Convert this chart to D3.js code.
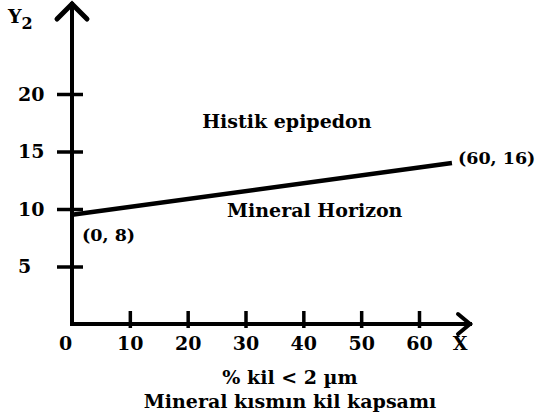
<!DOCTYPE html>
<html>
<head>
<meta charset="utf-8">
<script src="https://cdn.jsdelivr.net/npm/d3@7/dist/d3.min.js"></script>
<style>
  body { margin: 0; background: #fff; }
  text { font-family: "DejaVu Serif", serif; font-weight: bold; fill: #000; }
</style>
</head>
<body>
<div id="chart"></div>
<script>
// data
const xTicks = [0, 10, 20, 30, 40, 50, 60]
const yTicks = [5, 10, 15, 20]
const lineX = [0, 65.7]
const lineY = [9.5, 14]
const pointLabels = ['(0, 8)', '(60, 16)']
const regionNames = ['Histik epipedon', 'Mineral Horizon']
const regionX = [22.5, 26.8]
const regionY = [17.6, 9.9]
const xTitle = ['% kil < 2 µm', 'Mineral kısmın kil kapsamı']

// chart setting
const chart = { 'width': 540, 'height': 420 }
const margin = { 'left': 72, 'right': 121, 'top': 94, 'bottom': 96 }

createViz()

function createViz(){
  const xScale = d3.scaleLinear()
                  .domain([0, 60])
                  .range([margin.left, chart.width - margin.right])
  const yScale = d3.scaleLinear()
                  .domain([0, 20])
                  .range([chart.height - margin.bottom, margin.top])

  const svg = d3.select('#chart')
                .append('svg')
                  .attr('width', chart.width)
                  .attr('height', chart.height)

  const x0 = xScale(0), y0 = yScale(0)

  // x axis
  const xAxis = d3.axisBottom(xScale)
                  .tickValues(xTicks)
                  .tickFormat(d3.format('d'))
                  .tickSizeInner(4)
                  .tickSizeOuter(0)
                  .tickPadding(8.5)
  const bottomAxis = svg.append('g')
                  .attr('class', 'axis-x')
                  .attr('transform', `translate(0, ${y0})`)
                  .call(xAxis)
  bottomAxis.select('.domain').remove()
  bottomAxis.selectAll('.tick line')
        .attr('y1', -13).attr('y2', 4)
        .attr('stroke', '#000').attr('stroke-width', 3.5)
  bottomAxis.selectAll('.tick').filter(d => d === 0).select('line').remove()
  bottomAxis.selectAll('.tick').filter(d => d === 0).select('text').attr('x', -7)
  bottomAxis.selectAll('text').attr('font-size', 19).attr('font-family', null)

  // y axis
  const yAxis = d3.axisLeft(yScale)
                  .tickValues(yTicks)
                  .tickSizeOuter(0)
  const leftAxis = svg.append('g')
                  .attr('class', 'axis-y')
                  .attr('transform', `translate(${x0}, 0)`)
                  .call(yAxis)
  leftAxis.select('.domain').remove()
  leftAxis.selectAll('.tick line')
        .attr('x1', -15).attr('x2', 11)
        .attr('stroke', '#000').attr('stroke-width', 3.5)
  leftAxis.selectAll('text')
        .attr('text-anchor', 'start')
        .attr('x', -54)
        .attr('font-size', 19).attr('font-family', null)

  // axis lines with arrows
  const yTop = 4, xEnd = 470
  svg.append('path')
    .attr('d', `M${x0},${y0} L${x0},${yTop} M${x0},${y0} L${xEnd},${y0}`)
    .attr('fill', 'none').attr('stroke', '#000').attr('stroke-width', 4)
    .attr('stroke-linecap', 'square')
  svg.append('path')
    .attr('d', `M${x0 - 15},${yTop + 15} L${x0},${yTop} L${x0 + 15},${yTop + 15}`)
    .attr('fill', 'none').attr('stroke', '#000').attr('stroke-width', 5)
    .attr('stroke-linecap', 'round').attr('stroke-linejoin', 'miter')
  svg.append('path')
    .attr('d', `M${xEnd - 12},${y0 - 10} L${xEnd},${y0} L${xEnd - 12},${y0 + 10}`)
    .attr('fill', 'none').attr('stroke', '#000').attr('stroke-width', 4)
    .attr('stroke-linecap', 'round').attr('stroke-linejoin', 'miter')

  // axis names
  const yName = svg.append('text')
        .attr('x', 8).attr('y', 23)
        .attr('font-size', 19)
        .text('Y')
  yName.append('tspan')
        .attr('font-size', 16)
        .attr('dy', 6)
        .text('2')
  svg.append('text')
        .attr('x', 460).attr('y', y0 + 26)
        .attr('text-anchor', 'middle')
        .attr('font-size', 19)
        .text('X')

  // boundary line
  const pts = lineX.map((d, i) => ({ x: d, y: lineY[i] }))
  const lineGenerator = d3.line()
    .x(d => xScale(d.x))
    .y(d => yScale(d.y))
  svg.append('path')
    .attr('d', lineGenerator(pts))
    .attr('fill', 'none')
    .attr('stroke', '#000')
    .attr('stroke-width', 4.5)

  // end point labels
  svg.append('text')
        .attr('x', xScale(pts[0].x) + 10)
        .attr('y', yScale(pts[0].y) + 26)
        .attr('font-size', 17.5)
        .text(pointLabels[0])
  svg.append('text')
        .attr('x', xScale(pts[1].x) + 6)
        .attr('y', yScale(pts[1].y) + 1)
        .attr('font-size', 17.5)
        .text(pointLabels[1])

  // region names
  svg.selectAll('.region')
    .data(regionNames)
    .join('text')
      .attr('class', 'region')
      .attr('x', (d, i) => xScale(regionX[i]))
      .attr('y', (d, i) => yScale(regionY[i]))
      .attr('dy', '0.35em')
      .attr('font-size', 19)
      .text(d => d)

  // x title
  svg.selectAll('.xtitle')
    .data(xTitle)
    .join('text')
      .attr('class', 'xtitle')
      .attr('x', 290)
      .attr('y', (d, i) => 384 + i * 24)
      .attr('text-anchor', 'middle')
      .attr('font-size', 19)
      .text(d => d)
}
</script>
</body>
</html>
